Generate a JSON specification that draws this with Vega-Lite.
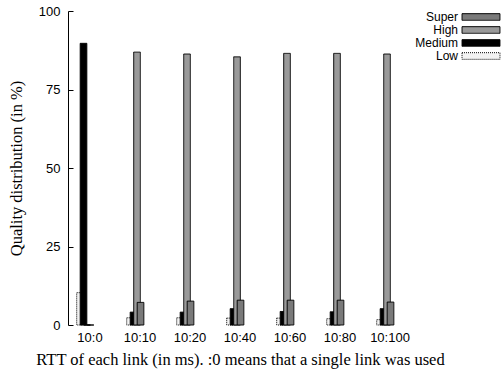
{
  "$schema": "https://vega.github.io/schema/vega-lite/v6.json",
  "width": 344,
  "height": 314,
  "autosize": {"type": "none"},
  "padding": {"left": 68, "top": 11, "right": 91, "bottom": 45},
  "background": "white",
  "config": {"view": {"stroke": null}},
  "data": {
    "values": [
      {"rtt": "10:0", "quality": "Low", "pct": 10.3},
      {"rtt": "10:0", "quality": "Medium", "pct": 89.7},
      {"rtt": "10:0", "quality": "High", "pct": 0},
      {"rtt": "10:0", "quality": "Super", "pct": 0},
      {"rtt": "10:10", "quality": "Low", "pct": 2.3},
      {"rtt": "10:10", "quality": "Medium", "pct": 4.1},
      {"rtt": "10:10", "quality": "High", "pct": 86.9},
      {"rtt": "10:10", "quality": "Super", "pct": 7.2},
      {"rtt": "10:20", "quality": "Low", "pct": 2.3},
      {"rtt": "10:20", "quality": "Medium", "pct": 4.1},
      {"rtt": "10:20", "quality": "High", "pct": 86.3},
      {"rtt": "10:20", "quality": "Super", "pct": 7.6},
      {"rtt": "10:40", "quality": "Low", "pct": 2.2},
      {"rtt": "10:40", "quality": "Medium", "pct": 5.2},
      {"rtt": "10:40", "quality": "High", "pct": 85.4},
      {"rtt": "10:40", "quality": "Super", "pct": 7.9},
      {"rtt": "10:60", "quality": "Low", "pct": 2.2},
      {"rtt": "10:60", "quality": "Medium", "pct": 4.3},
      {"rtt": "10:60", "quality": "High", "pct": 86.5},
      {"rtt": "10:60", "quality": "Super", "pct": 7.9},
      {"rtt": "10:80", "quality": "Low", "pct": 2.0},
      {"rtt": "10:80", "quality": "Medium", "pct": 4.2},
      {"rtt": "10:80", "quality": "High", "pct": 86.5},
      {"rtt": "10:80", "quality": "Super", "pct": 7.9},
      {"rtt": "10:100", "quality": "Low", "pct": 1.7},
      {"rtt": "10:100", "quality": "Medium", "pct": 5.2},
      {"rtt": "10:100", "quality": "High", "pct": 86.3},
      {"rtt": "10:100", "quality": "Super", "pct": 7.3}
    ]
  },
  "mark": {"type": "bar", "stroke": "black", "strokeWidth": 1, "width": {"band": 1.9}},
  "encoding": {
    "x": {
      "field": "rtt",
      "type": "nominal",
      "sort": null,
      "scale": {"paddingInner": 0.72, "paddingOuter": 0.30},
      "axis": {
        "title": "RTT of each link (in ms). :0 means that a single link was used",
        "titleFont": "Liberation Serif",
        "titleFontSize": 16.5,
        "titleFontWeight": "normal",
        "titleColor": "black",
        "titlePadding": 7,
        "labelFont": "Liberation Sans",
        "labelFontSize": 13,
        "labelColor": "black",
        "labelAngle": 0,
        "labelPadding": 6,
        "domain": false,
        "ticks": false,
        "grid": false
      }
    },
    "xOffset": {"field": "quality", "type": "nominal", "sort": ["Low", "Medium", "High", "Super"], "scale": {"paddingInner": 0, "paddingOuter": 0}},
    "y": {
      "field": "pct",
      "type": "quantitative",
      "scale": {"domain": [0, 100], "nice": false},
      "axis": {
        "title": "Quality distribution (in %)",
        "titleFont": "Liberation Serif",
        "titleFontSize": 16.5,
        "titleFontWeight": "normal",
        "titleColor": "black",
        "titlePadding": 14,
        "values": [0, 25, 50, 75, 100],
        "labelFont": "Liberation Sans",
        "labelFontSize": 13,
        "labelColor": "black",
        "tickSize": -5,
        "tickColor": "black",
        "domainColor": "black",
        "labelPadding": 13,
        "grid": false
      }
    },
    "fill": {
      "field": "quality",
      "type": "nominal",
      "scale": {"domain": ["Super", "High", "Medium", "Low"], "range": ["#7a7a7a", "#9a9a9a", "#000000", "#f2f2f2"]},
      "legend": {
        "title": null,
        "orient": "none",
        "legendX": 407,
        "legendY": 0,
        "symbolType": "M-4,-0.7H4V0.7H-4Z",
        "symbolSize": 90,
        "symbolStrokeColor": "black",
        "symbolStrokeWidth": 1,
        "labelFont": "Liberation Sans",
        "labelFontSize": 12,
        "labelColor": "black",
        "labelAlign": "right",
        "labelOffset": -29,
        "rowPadding": 1
      }
    },
    "strokeDash": {
      "field": "quality",
      "type": "nominal",
      "scale": {"domain": ["Super", "High", "Medium", "Low"], "range": [[1, 0], [1, 0], [1, 0], [1, 1]]},
      "legend": null
    },
    "order": {"field": "quality"}
  }
}
